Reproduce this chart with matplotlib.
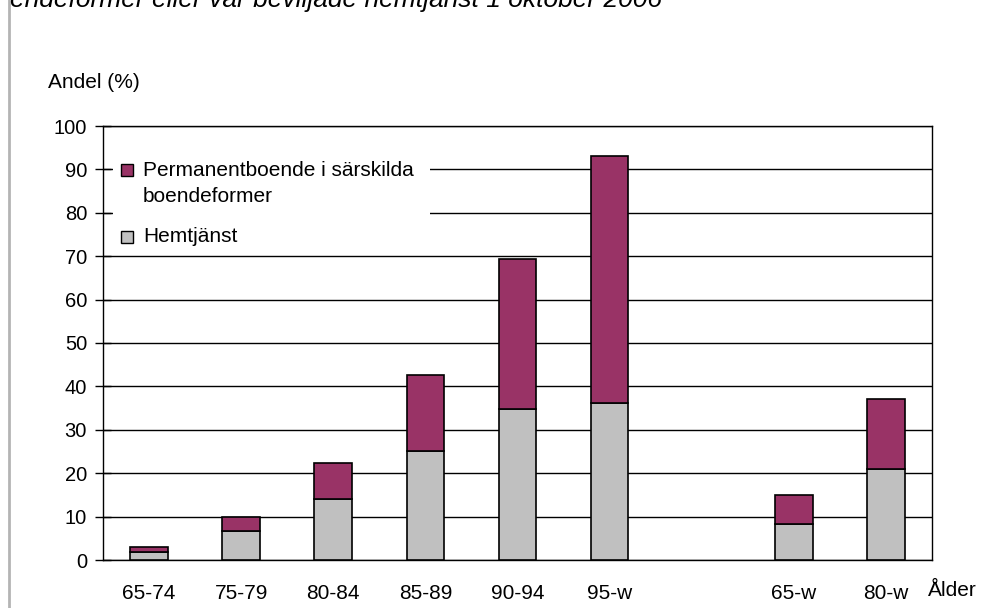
import matplotlib
matplotlib.use("Agg")
import matplotlib.pyplot as plt
from matplotlib.patches import Rectangle

plt.rcParams['font.family'] = ['Liberation Sans', 'DejaVu Sans']

# age groups, one empty slot between 95-w and the summary groups
age_groups = ['65-74', '75-79', '80-84', '85-89', '90-94', '95-w', '65-w', '80-w']
positions = [0, 1, 2, 3, 4, 5, 7, 8]
hemtjanst = [1.8, 6.7, 14.0, 25.1, 34.8, 36.2, 8.3, 21.0]
sarskilt_boende = [1.2, 3.2, 8.3, 17.5, 34.6, 56.9, 6.7, 16.1]
series_labels = ['Permanentboende i särskilda', 'boendeformer', 'Hemtjänst']

MAROON = '#993366'
GREY = '#c0c0c0'
FS = 15

W, H = 981, 608
fig = plt.figure(figsize=(W / 100, H / 100), dpi=100)


def px(x, y):
    # pixel position from the top-left corner -> figure fraction
    return x / W, 1 - y / H


ax = fig.add_axes([103 / W, (H - 560) / H, (932 - 103) / W, (560 - 126) / H])

ax.bar(positions, hemtjanst, width=0.41, color=GREY, edgecolor='black',
       linewidth=1.2, zorder=3)
ax.bar(positions, sarskilt_boende, width=0.41, bottom=hemtjanst, color=MAROON,
       edgecolor='black', linewidth=1.2, zorder=3)

ax.set_xlim(-0.5, 8.5)
ax.set_ylim(0, 100)
ax.set_yticks(range(0, 101, 10))
ax.set_xticks(positions)
ax.set_xticklabels(age_groups)
ax.yaxis.grid(True, color='black', linewidth=1, zorder=0)
ax.set_axisbelow(True)

for side in ['left', 'bottom', 'right', 'top']:
    ax.spines[side].set_color('black')
    ax.spines[side].set_linewidth(1)
ax.tick_params(axis='y', direction='inout', length=11, width=1, pad=6,
               labelsize=14.5, colors='black')
ax.tick_params(axis='x', length=0, pad=17, labelsize=FS, colors='black')

fig.text(*px(48, 83), 'Andel (%)', fontsize=FS, va='center', ha='left')
fig.text(*px(928, 591), 'Ålder', fontsize=FS, va='center', ha='left')

# heading cut off at the top edge
fig.text(*px(10, 7), 'endeformer eller var beviljade hemtjänst 1 oktober 2006',
         fontsize=19, style='italic', va='baseline', ha='left')
fig.add_artist(plt.Line2D([8.5 / W, 8.5 / W], [0, 1], color='#b4b4b4',
                          linewidth=2, transform=fig.transFigure))

# legend block on a white background over the gridlines
x0, y0 = px(113, 250)
x1, y1 = px(430, 140)
fig.add_artist(Rectangle((x0, y0), x1 - x0, y1 - y0, transform=fig.transFigure,
                         facecolor='white', edgecolor='none', zorder=4))
for color, top in [(MAROON, 164), (GREY, 231)]:
    sx, sy = px(121, top + 12)
    fig.add_artist(Rectangle((sx, sy), 12 / W, 12 / H, transform=fig.transFigure,
                             facecolor=color, edgecolor='black', linewidth=1,
                             zorder=5))
for label, yc in zip(series_labels, [170, 196, 237]):
    fig.text(*px(143, yc), label, fontsize=FS, va='center', ha='left', zorder=6)

fig.savefig('out.png', dpi=100, facecolor='white')
